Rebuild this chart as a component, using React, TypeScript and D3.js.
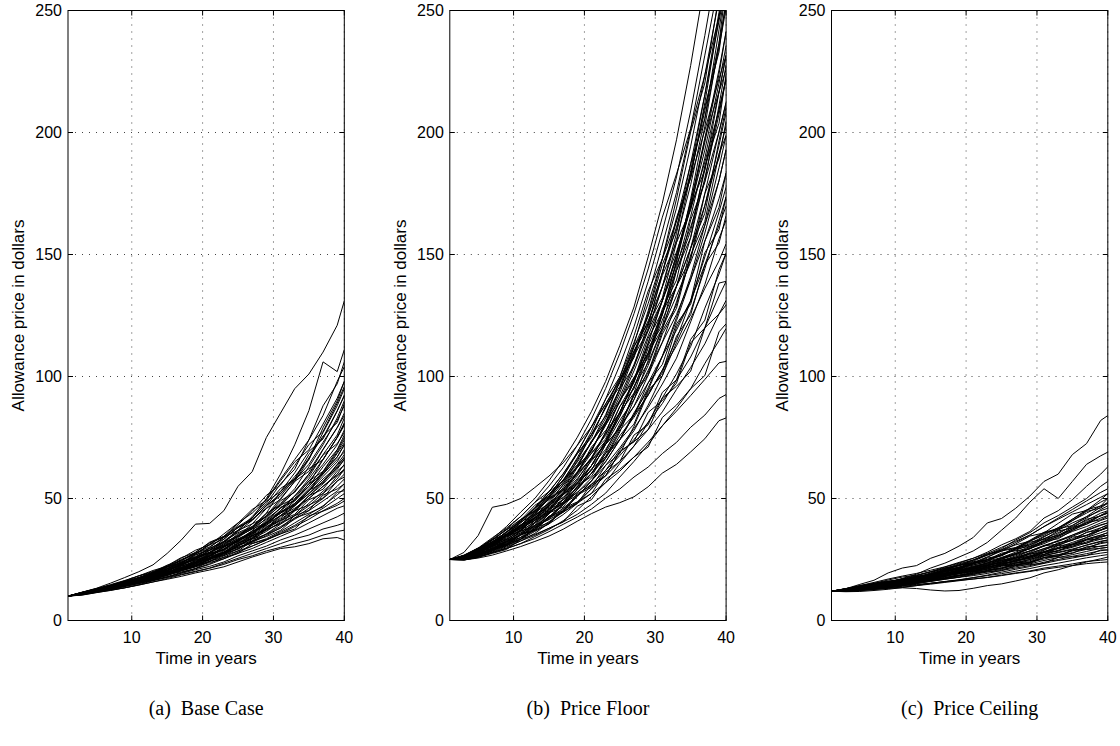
import React from "react";
import * as d3 from "d3";

// simulated allowance price paths, every second year
const years = [1, 3, 5, 7, 9, 11, 13, 15, 17, 19, 21, 23, 25, 27, 29, 31, 33, 35, 37, 39, 40];

const baseCase = [
  [10, 11.6, 13.2, 15.3, 17.6, 20, 22.8, 27.5, 33, 39.5, 39.8, 45, 55, 61, 75, 85, 95, 101, 110, 121, 131],
  [10, 11.3, 12.6, 14.2, 15.8, 17.5, 19.6, 21.5, 24.6, 27.5, 29.5, 32.5, 37, 42, 50, 60, 72, 86, 106, 102, 111],
  [10, 11.5, 12.9, 14.5, 16.2, 18.3, 20.5, 22.2, 25.5, 28.8, 31, 35.5, 40, 44, 49.5, 58, 66, 74, 88, 97, 106],
  [10, 10.9, 12.4, 13.9, 15.4, 17.5, 19.7, 22, 24.8, 27.2, 31.3, 34.5, 38.5, 42, 48, 56, 62, 74, 84, 98, 104],
  [10, 11.4, 12.8, 14.3, 15.7, 17.5, 19.2, 20.5, 23.5, 26.8, 28.8, 32, 36.5, 41, 47, 52, 59, 66, 79, 90, 98],
  [10, 10.8, 11.9, 13.2, 14.6, 16, 17.6, 19.5, 21.2, 24.7, 27.5, 31.5, 35, 38, 43, 50, 57, 66, 77, 88, 95],
  [10, 11.3, 12.6, 14.2, 15.4, 17, 19, 21.2, 23.8, 26.3, 27.8, 30.5, 34.5, 38.5, 44, 53, 58, 68, 75, 86, 92],
  [10, 11, 12.3, 13.4, 14.9, 16.5, 18.7, 20.4, 22.5, 25.2, 28, 31.5, 34.5, 37.5, 43, 48, 54, 63, 72, 83, 90],
  [10, 11.6, 13, 14.7, 16.4, 18.3, 20.1, 21.8, 25, 27.6, 30.2, 34, 38, 41.5, 46, 52, 57.5, 64, 73, 82, 88],
  [10, 10.7, 11.8, 13, 14.4, 16, 17.8, 19.7, 22.2, 24.3, 26.5, 30, 33, 36.8, 42, 47.5, 53, 60, 70, 79, 85],
  [10, 11.1, 12.5, 13.6, 15, 16.8, 18.4, 20.5, 23, 25.8, 28.7, 32.4, 36, 38.5, 42.5, 47, 53, 59, 68, 76, 83],
  [10, 11.5, 12.8, 14, 15.4, 16.9, 18.1, 19.8, 21.6, 23.8, 26.3, 29.2, 32.5, 36, 41, 46, 51, 58, 66, 75, 80],
  [10, 10.9, 12.1, 13.2, 14.6, 16.2, 18, 20.2, 22.8, 25.2, 27.8, 30.5, 33, 36, 40.5, 45, 51, 57, 64, 72, 78],
  [10, 11.2, 12.6, 14, 15.8, 17.6, 19.1, 20.6, 22.5, 25.7, 27.6, 29, 33, 36.5, 40, 44, 49, 55, 63, 70, 76],
  [10, 10.8, 11.9, 12.9, 14.1, 15.6, 17.3, 18.9, 21, 23.6, 26.5, 29.4, 32.5, 35.6, 40, 44.5, 48, 53, 61, 69, 74],
  [10, 11.4, 12.6, 13.9, 14.8, 16, 17.7, 19.5, 21.5, 24, 27, 30, 34, 37.8, 41.5, 46, 49.5, 55, 61, 67, 72],
  [10, 11, 12.3, 13.4, 14.9, 16.6, 17.8, 19.4, 21, 23, 25.2, 27.6, 30.5, 34, 38, 42, 47, 53, 59, 65, 70],
  [10, 11.2, 12.4, 13.6, 15.2, 17, 18.5, 20.5, 23, 25.4, 28, 30.5, 33.5, 36, 39.5, 43, 47, 52, 57, 64, 68],
  [10, 10.6, 11.6, 12.6, 13.9, 15.2, 16.8, 18.5, 20.5, 22.5, 24.8, 27.5, 30.5, 33.8, 37.5, 41, 45.5, 51, 56, 62, 66],
  [10, 11.5, 12.9, 14.2, 15.6, 17.2, 18.6, 19.9, 21.4, 23.8, 25.6, 28, 31, 33.5, 36.5, 40.5, 45, 50, 55, 60, 64],
  [10, 10.9, 12.1, 13.2, 14.4, 15.8, 17.3, 19, 21.1, 23.3, 25.8, 28.6, 32, 34.8, 37, 40, 43, 48, 53, 58, 62],
  [10, 11.3, 12.5, 13.7, 14.9, 15.9, 17.5, 18.8, 20.6, 22.5, 24.2, 26.5, 29.5, 32.5, 35.5, 39.5, 43, 47, 52, 57, 60],
  [10, 10.7, 11.9, 13.1, 14.4, 15.9, 17.5, 19.2, 21.4, 23.7, 25.8, 28, 30, 32.2, 35.5, 38.5, 42, 46, 50, 55, 58],
  [10, 11, 12.3, 13.4, 14.6, 15.6, 17, 18.5, 20.3, 22, 24.2, 27, 29.5, 32, 34.8, 38, 41.5, 45, 49, 53, 56],
  [10, 11.4, 12.8, 14, 15.3, 16.7, 18.2, 19.8, 21.7, 23.8, 25.6, 27.5, 30, 31.6, 33.5, 36.5, 40, 43.5, 47, 51.5, 54],
  [10, 10.5, 11.5, 12.3, 13.4, 14.7, 16.3, 17.7, 19.5, 21.3, 23.3, 26, 28.5, 30.5, 33, 36, 39, 42.5, 46, 50, 52],
  [10, 11.1, 12.3, 13.5, 14.6, 15.8, 17.4, 18.7, 20.4, 22, 23.8, 25.3, 28, 30.5, 33, 35.5, 38.5, 41.5, 45, 48, 50],
  [10, 10.8, 11.8, 12.9, 14, 15.1, 16.5, 18, 19.7, 21.2, 23, 25.3, 27.5, 29.5, 32, 34.5, 37, 40, 43, 46, 47],
  [10, 11, 12.2, 13.2, 14.3, 15.5, 16.7, 17.9, 19.3, 20.8, 22.2, 24, 26.5, 28.5, 30.5, 33, 35, 37.5, 40, 42.5, 44],
  [10, 10.4, 11.4, 12.4, 13.4, 14.6, 15.8, 17.2, 18.7, 20, 21.5, 23.5, 25.5, 27.5, 29.5, 31.5, 33.5, 35, 37.5, 39, 40],
  [10, 10.9, 12, 13, 14.2, 15.3, 16.4, 17.6, 18.9, 20.2, 21.4, 23, 25, 26.5, 28.5, 30, 31.5, 33, 35, 36.5, 37],
  [10, 10.7, 11.7, 12.6, 13.4, 14.5, 15.8, 16.9, 18.1, 19.5, 20.7, 22, 24, 26, 27.8, 29.5, 30.2, 31.5, 33.5, 34, 33],
  [10, 11.2, 12.7, 13.8, 15, 16.4, 17.7, 19.6, 21.6, 23.3, 25.5, 28, 31, 34.5, 39, 43, 48, 54, 60.5, 67, 72],
  [10, 10.8, 12.3, 13.4, 15, 16.7, 18.2, 19.6, 22, 24.6, 26.5, 29.3, 33, 35.5, 40, 44, 47.5, 52, 58, 63, 67],
  [10, 11.3, 12.7, 13.7, 15, 16.4, 18.2, 19.8, 21.5, 23.5, 25.5, 28, 31.5, 35, 39.5, 45, 49.5, 56, 66, 75, 81],
  [10, 11.1, 12.4, 13.5, 14.5, 15.8, 17.4, 18.8, 20.8, 22.6, 25, 28, 31.5, 34.5, 38, 43, 46, 50, 55, 59.5, 62],
  [10, 11.5, 13.1, 14.4, 15.9, 17.6, 19.3, 21.1, 23.5, 25.5, 27.8, 31, 34.5, 37.5, 40, 44, 47.5, 53, 60, 66, 69],
  [10, 10.9, 12, 13, 14.3, 15.6, 17.2, 18.8, 20.8, 22.8, 25, 27.5, 30.5, 33.5, 37.5, 41.5, 45.5, 51, 57, 62.5, 66],
  [10, 11.2, 12.2, 13.9, 15, 17.1, 18.5, 21.1, 22.8, 26, 29.6, 32.1, 36.9, 39.6, 45.9, 49.6, 57, 61.1, 70.2, 79.1, 84],
  [10, 11, 12.4, 13.3, 15.2, 16.4, 18.7, 20.1, 23.1, 24.8, 26.6, 30.3, 32.2, 36.6, 39, 44.6, 47, 53.4, 56.3, 63.8, 66.5],
  [10, 11.2, 12.7, 13.7, 15.6, 16.9, 19.2, 21.9, 23.5, 27, 29, 33.3, 38.2, 41.1, 47.2, 54.1, 58, 66.6, 75.6, 81.1, 88.9],
  [10, 11, 11.9, 13.5, 14.4, 16.3, 17.4, 18.7, 21.1, 22.6, 24.1, 27.6, 29.1, 33.3, 35.3, 37.8, 43, 45.1, 51.4, 53.9, 56],
  [10, 11.3, 12.3, 14, 15.9, 17.3, 19.6, 21.1, 24.2, 26, 27.9, 32.1, 34.5, 39.6, 42.6, 49.1, 52.5, 60, 67.8, 72.5, 77],
  [10, 11.1, 12.1, 13.7, 14.7, 15.8, 17.8, 19.1, 21.7, 23.1, 26.3, 27.9, 31.8, 33.7, 38.5, 41, 43.5, 49.5, 52, 59.2, 61.6],
  [10, 11.2, 12.2, 13.2, 15, 17.1, 18.3, 21.1, 24, 25.8, 29.9, 34.2, 36.9, 42.6, 48.8, 52.8, 60.5, 69.3, 74.4, 85.8, 92.4],
  [10, 10.9, 12.3, 13.2, 14.1, 16.1, 17, 19.5, 20.6, 22.1, 25.2, 26.7, 28.5, 32.6, 34.4, 36.9, 42, 44, 46.6, 52.5, 53.2],
  [10, 11.2, 12.7, 14.4, 15.5, 17.6, 18.8, 20.3, 23.3, 25, 28.8, 30.9, 35.5, 38.1, 43.9, 47.3, 50, 57.2, 61.1, 69.8, 74.9],
  [10, 11, 12.4, 13.5, 14.4, 16.4, 17.4, 19.9, 21.1, 24.1, 27.4, 29.1, 33.2, 35.2, 40.2, 46.4, 49, 56.1, 59.9, 68.5, 72.8],
  [10, 11.3, 12.9, 14, 16.1, 18.3, 19.6, 22.5, 25.8, 27.8, 32.1, 34.5, 39.9, 45.5, 49.2, 57.3, 65, 69.9, 80.5, 91.1, 98],
  [10, 11, 11.9, 12.8, 14.6, 15.4, 16.5, 18.9, 19.9, 21.3, 24.4, 25.8, 27.5, 31.5, 33.2, 35.5, 37.5, 42.9, 44.8, 47.2, 49],
  [10, 11.2, 12.2, 13.9, 15.8, 16.9, 19.4, 22.1, 23.7, 27.3, 31, 33.3, 38.2, 41.1, 47.2, 51, 58, 62.2, 65.9, 75.1, 80.5],
  [10, 11.1, 12.5, 13.5, 15.3, 16.3, 18.5, 19.7, 22.4, 23.8, 27.1, 28.8, 32.8, 34.8, 37.3, 42.8, 45, 51.2, 53.8, 61.2, 63.7],
  [10, 11.2, 12.7, 14.3, 16.2, 17.4, 19.9, 22.7, 24.4, 28, 31.8, 34.2, 39.2, 44.8, 51.3, 55.5, 63.5, 72.1, 77.4, 89.1, 95.9],
  [10, 11, 12.4, 13.3, 14.3, 16.3, 17.2, 18.5, 21, 22.3, 25.5, 27, 30.8, 32.6, 37.3, 39.6, 45, 47.3, 50.2, 57.2, 58.8],
];

const priceFloor = [
  [25, 26.6, 29.5, 33.5, 38.5, 44.4, 50, 57.3, 65.7, 75.1, 85.7, 98, 112.7, 128.5, 149, 171, 197, 227.5, 262, 291, 309],
  [25, 25.5, 28.4, 31.4, 35.5, 38.9, 44.7, 51, 59.1, 68.9, 79.4, 90.8, 104.7, 120.4, 139, 159.6, 181.8, 208.8, 239.8, 273, 289.5],
  [25, 26.3, 29.2, 31.7, 36.2, 40.7, 45.9, 50.5, 57.6, 63.8, 73, 84.4, 98.2, 113.1, 133, 153.9, 175.4, 201.6, 231.7, 262, 279.9],
  [25, 25, 26.4, 29.3, 31.5, 35.2, 40.2, 45.5, 52.5, 60.5, 69.9, 80.8, 93.4, 108.6, 126.9, 148.2, 169, 194.4, 223.6, 254.8, 270.2],
  [25, 26.8, 29.7, 33.9, 37.9, 42.6, 48.4, 52.8, 60.1, 68.4, 76.2, 87.2, 97.4, 112.2, 124.8, 142.5, 163.8, 187.2, 215.5, 245.7, 260.6],
  [25, 26.1, 27.2, 30.8, 33.2, 37, 42.6, 48.7, 55.6, 63.3, 73, 82.9, 95, 109.5, 124.8, 142.5, 161.3, 182.9, 209, 236.6, 252.8],
  [25, 25.3, 26.4, 28.4, 30.5, 33.3, 37.7, 43.7, 50, 57.6, 66.7, 77.2, 90.2, 104.1, 118.8, 136.8, 156.2, 178.6, 205.7, 234.8, 250.9],
  [25, 26.3, 28.6, 32.3, 35.2, 40, 45.1, 49.6, 56.6, 62.7, 69.9, 80.1, 89.4, 102.3, 116.7, 131.1, 149.8, 171.4, 197.6, 225.7, 241.3],
  [25, 25.8, 28.4, 30.8, 34.8, 38.1, 43.1, 46.4, 50.5, 55.4, 63.5, 73.6, 85.3, 97.7, 113.7, 131.1, 148.5, 169.9, 192.8, 220.2, 235.5],
  [25, 26.1, 27.2, 29.3, 32.8, 35.9, 41, 46.9, 53, 60.5, 68.6, 75.8, 87.7, 97.7, 112.7, 125.4, 144.6, 165.6, 189.5, 216.6, 231.6],
  [25, 26.6, 29.5, 32.9, 37.2, 41.4, 45.1, 49.6, 54, 59.9, 66.7, 76.5, 85.3, 98.6, 109.6, 125.4, 143.4, 159.8, 184.7, 209.3, 222],
  [25, 25.3, 26.7, 29, 31.2, 34, 37.3, 42.3, 47.5, 53.7, 60.3, 69.4, 80.5, 92.3, 104.5, 119.7, 137, 157, 181.4, 207.5, 222],
  [25, 26.1, 28.4, 30.5, 33.2, 37, 41.8, 47.3, 52, 59.3, 66.7, 73.6, 83.7, 95.9, 105.6, 119.7, 137, 152.6, 175, 200.2, 212.3],
  [25, 26.3, 28.6, 32, 34.8, 38.9, 42.2, 46, 49.5, 54.2, 60.3, 68.6, 78.9, 87.8, 100.5, 114, 130.6, 148.3, 170.1, 194.7, 208.4],
  [25, 25.5, 27, 29.9, 32.2, 35.2, 39.8, 43.7, 49.5, 56.5, 63.5, 72.9, 83.7, 95.9, 108.6, 123.1, 137, 152.6, 170.1, 191.1, 202.7],
  [25, 26.3, 28.9, 32.3, 36.2, 40.7, 45.9, 51.9, 57.1, 65, 73, 81.5, 90.2, 99.6, 109.6, 119.7, 133.1, 146.9, 162, 180.2, 193],
  [25, 25, 26.1, 28.1, 30.2, 32.6, 35.7, 40, 44.9, 50.9, 57.2, 65.1, 74.1, 84.2, 95.4, 108.3, 124.2, 141.1, 162, 185.6, 198.8],
  [25, 26.1, 28.6, 31.1, 34.8, 38.1, 41, 44.1, 48, 52.5, 58.4, 65.1, 74.1, 85.1, 94.4, 108.3, 122.9, 139.7, 158.8, 180.2, 193],
  [25, 25.8, 27.2, 29.3, 32.5, 35.2, 40.2, 45.5, 51.5, 58.2, 65.4, 72.2, 82.1, 90.5, 102.5, 114, 125.4, 139.7, 155.5, 172.9, 183.4],
  [25, 26.3, 27.8, 30.8, 33.2, 37, 40.2, 44.1, 48.5, 54.8, 60.3, 66.5, 75.7, 83.3, 92.4, 102.6, 115.2, 131, 149, 167.4, 177.6],
  [25, 26.1, 28.6, 31.7, 35.2, 39.2, 43.1, 46.9, 51.5, 57.1, 63.5, 70.1, 79.7, 87.8, 97.4, 108.3, 119, 131, 145.8, 162, 169.8],
  [25, 25.3, 26.7, 28.7, 30.8, 33.3, 36.5, 39.6, 43.4, 48, 54, 61.5, 70, 77.8, 88.3, 100.3, 113.9, 126.7, 144.2, 163.8, 173.7],
  [25, 26.1, 27.8, 31.1, 34.5, 37.7, 41, 44.6, 48, 52.5, 57.2, 63.6, 70.8, 78.7, 87.3, 96.9, 107.5, 122.4, 137.7, 156.5, 164.1],
  [25, 25.5, 27, 29.3, 31.8, 34.8, 39, 42.3, 47.5, 53.7, 60.3, 67.2, 74.1, 84.2, 92.4, 102.6, 112.6, 123.8, 136.1, 147.4, 154.4],
  [25, 25, 26.1, 27.8, 29.5, 31.5, 34.4, 37.3, 40.9, 45.2, 50.8, 56.5, 64.4, 71.5, 81.2, 91.2, 101.1, 112.3, 128, 142, 150.5],
  [25, 26.3, 28.9, 31.4, 35.2, 38.5, 41.4, 44.6, 48, 51.4, 55.9, 61.5, 67.6, 74.2, 81.2, 88.9, 98.6, 108, 119.9, 132.9, 139],
  [25, 25.3, 26.7, 29, 31.2, 34, 36.9, 40.5, 44.4, 48.6, 54, 59.3, 65.2, 71.5, 78.2, 85.5, 94.7, 103.7, 113.4, 125.6, 131.2],
  [25, 24.8, 25.9, 27.8, 29.8, 32.6, 34.9, 37.8, 40.4, 43.5, 47.6, 52.2, 58.8, 65.2, 72.1, 79.8, 87, 95, 105.3, 114.7, 119.7],
  [25, 25.8, 28.1, 30.2, 32.8, 35.9, 38.5, 41.4, 44.4, 48, 52.1, 56.5, 61.2, 67, 73.1, 79.8, 85.8, 92.2, 98.8, 105.6, 106.2],
  [25, 25, 26.1, 27.8, 29.5, 31.5, 33.6, 36.4, 39.4, 42.4, 45.7, 50.1, 53.9, 58.8, 62.9, 68.4, 73, 79.2, 84.2, 91, 92.6],
  [25, 24.8, 25.6, 26.8, 28.5, 30.3, 32.4, 34.6, 37.4, 40.7, 43.8, 46.5, 48.3, 50.7, 54.8, 60.4, 64, 69.1, 74.5, 81.9, 83],
  [25, 27.9, 34.8, 46.4, 47.6, 50, 54.5, 59.2, 64.6, 71.8, 79.4, 88.7, 99, 110.4, 122.8, 136.8, 151, 168.5, 187.9, 209.3, 222],
  [25, 26.1, 28.6, 31.1, 34.8, 38.9, 44.3, 50.5, 57.6, 66.1, 76.2, 87.2, 99.8, 114, 129.9, 148.2, 163.8, 181.4, 200.9, 222, 231.6],
  [25, 25.5, 27.2, 29.3, 32.2, 35.2, 38.1, 41.9, 46, 50.9, 57.2, 66.5, 77.3, 90.5, 106.6, 125.4, 147.2, 172.8, 202.5, 236.6, 260.6],
  [25, 26.3, 29.2, 32.3, 36.2, 40.7, 46.3, 52.8, 60.1, 68.9, 79.4, 88.7, 98.2, 108.6, 118.8, 131.1, 145.9, 161.3, 179.8, 200.2, 212.3],
  [25, 25.5, 28.1, 30.5, 34.2, 37, 42.2, 47.8, 53.5, 61, 69.9, 80.1, 91.8, 105, 119.8, 136.8, 158.7, 184.3, 215.5, 249.3, 270.2],
  [25, 25.3, 26.7, 28.7, 30.8, 33.3, 37.3, 42.3, 48, 54.8, 63.5, 73.6, 85.3, 98.6, 113.7, 131.1, 149.8, 171.4, 196, 223.9, 241.3],
  [25, 26.6, 29.5, 33.2, 37.5, 42.6, 48.4, 55.1, 62.6, 71.8, 82.6, 95.1, 109.5, 125.8, 144.1, 165.3, 183, 201.6, 223.6, 247.5, 260.6],
  [25, 25.3, 28.4, 30.2, 34.8, 37.4, 43.5, 46.9, 54.5, 63.3, 69.2, 81.5, 95, 104.1, 121.8, 141.4, 154.9, 182.9, 210.6, 233, 254.8],
  [25, 26.6, 27.8, 31.7, 33.8, 38.9, 41.8, 45, 52, 56.5, 61.6, 72.2, 78.9, 92.3, 100.5, 117.4, 128, 149.8, 163.6, 191.1, 198.8],
  [25, 25, 26.1, 29.6, 30.8, 35.2, 36.9, 42.3, 44.4, 51.4, 54.6, 63.6, 68.4, 79.6, 93.4, 101.5, 120.3, 131, 155.5, 169.3, 183.4],
  [25, 26.3, 29.5, 31.4, 36.2, 41.4, 44.7, 51.9, 56.1, 65.5, 76.2, 83.7, 98.2, 107.7, 125.9, 145.9, 160, 187.2, 205.7, 242.1, 260.6],
  [25, 25.5, 28.6, 30.5, 32.2, 36.6, 38.5, 44.1, 46.5, 53.7, 62.2, 67.2, 78.1, 84.2, 97.4, 104.9, 121.6, 129.6, 150.7, 160.2, 173.7],
  [25, 26.1, 27.2, 31.1, 35.2, 37.7, 43.9, 50.1, 53.5, 62.7, 68.6, 74.4, 87.7, 95, 111.7, 120.8, 143.4, 157, 186.3, 203.8, 223.9],
  [25, 25.3, 26.4, 29.9, 31.5, 33.3, 38.1, 40, 46, 48.6, 52.1, 60.8, 65.2, 76, 80.2, 93.5, 98.6, 115.2, 123.1, 143.8, 150.5],
  [25, 26.3, 29.2, 33.2, 35.5, 41.1, 47.2, 51, 59.1, 68.4, 74.9, 87.9, 95.8, 112.2, 121.8, 132.2, 154.9, 168.5, 197.6, 216.6, 231.6],
  [25, 25.8, 27, 30.5, 32.2, 36.6, 39, 44.6, 51.5, 55.9, 66, 72.2, 85.3, 93.2, 109.6, 127.7, 139.5, 164.2, 179.8, 211.1, 227.7],
  [25, 25, 27.5, 29, 30.8, 35.2, 36.9, 39.6, 45.5, 48, 55.9, 59.3, 69.2, 73.3, 85.3, 90.1, 97.3, 113.8, 119.9, 138.3, 139],
  [25, 26.3, 27.5, 31.4, 33.5, 38.5, 44.3, 47.8, 55.6, 60.5, 71.1, 77.9, 84.5, 99.6, 107.6, 126.5, 137, 148.3, 175, 189.3, 204.6],
  [25, 25.5, 26.7, 28.4, 32.2, 34, 39, 41.4, 47.5, 54.8, 59.1, 68.6, 74.1, 80.5, 94.4, 100.3, 116.5, 125.3, 145.8, 154.7, 166],
  [25, 26.6, 29.7, 31.7, 36.5, 39.2, 41.8, 48.2, 52, 60.5, 66, 77.2, 90.2, 98.6, 115.7, 126.5, 147.2, 169.9, 184.7, 216.6, 225.8],
  [25, 25.3, 28.1, 29.6, 31.2, 35.5, 37.3, 42.8, 44.9, 52, 55.2, 59.3, 69.2, 73.3, 78.2, 91.2, 96, 102.2, 119.9, 125.6, 129.3],
  [25, 26.1, 28.9, 30.8, 35.2, 40.3, 43.5, 50.1, 57.6, 62.7, 73.7, 80.8, 95, 110.4, 120.8, 142.5, 165.1, 181.4, 212.2, 247.5, 266.3],
  [25, 25.5, 28.4, 32.3, 34.5, 36.6, 42.2, 45.5, 48.5, 56.5, 61.6, 72.2, 78.9, 93.2, 101.5, 118.6, 129.3, 152.6, 166.9, 196.6, 210.4],
  [25, 24.8, 25.9, 27.5, 29.1, 33.3, 35.3, 37.8, 40.4, 46.9, 49.5, 57.9, 62, 67, 71.1, 83.2, 88.3, 95, 100.4, 118.3, 121.6],
  [25, 26.3, 28.9, 32.9, 37.2, 40, 45.9, 52.8, 57.1, 66.7, 77.5, 90.8, 99.8, 116.7, 135, 148.2, 172.8, 200.2, 220.3, 256.6, 276],
];

const priceCeiling = [
  [12, 13, 14.8, 16.5, 19.5, 21.5, 22.5, 25.5, 27.5, 30.5, 34, 40, 41.8, 46, 51, 57, 60, 68, 72.5, 82, 84],
  [12, 12.6, 13.4, 14.4, 15.6, 17.2, 19, 21.5, 23.5, 26, 28.5, 32, 37, 42, 48.5, 54, 50, 57, 64, 67.5, 69],
  [12, 12.5, 13.3, 14.3, 15.5, 16.8, 18.3, 20, 21.9, 23.5, 25.5, 28, 31, 33.5, 36.5, 42, 45, 49.5, 55, 60, 63],
  [12, 12.9, 14, 15.2, 16.6, 17.8, 18.6, 20, 21.3, 22.8, 24.8, 27, 29.5, 33, 36, 40, 43, 46.5, 50, 55, 57],
  [12, 12.3, 12.9, 13.9, 14.8, 16.2, 17.5, 19.2, 21, 22.5, 24.3, 26.8, 29, 32, 35, 38.5, 42, 45.5, 49, 52.5, 54],
  [12, 13, 14.3, 15.6, 17, 18.2, 19.3, 20.6, 22, 23.8, 25.5, 27.5, 30, 32.5, 35, 38.5, 41.5, 44.5, 47.5, 50.5, 52],
  [12, 12.4, 13.3, 14.2, 15.1, 16.3, 17.4, 18.6, 20, 21.5, 23.3, 25, 26.5, 29.5, 32.5, 35, 38, 41.5, 45, 48.5, 50],
  [12, 12.8, 13.7, 14.8, 15.8, 17.1, 18.5, 19.9, 21.3, 23.2, 24.8, 26.8, 29, 31, 32.5, 35.5, 38, 41, 44, 47, 48],
  [12, 12.1, 12.6, 13.3, 14.1, 15, 16, 17.1, 18.4, 19.8, 21.2, 23, 25, 27.3, 30, 32.5, 35.5, 39, 42, 45.5, 47],
  [12, 12.9, 14, 14.9, 15.7, 16.6, 17.6, 18.8, 20.2, 21.8, 23.2, 25, 27, 29.3, 31.5, 34.5, 37, 40, 42.5, 45, 46],
  [12, 12.3, 13, 13.9, 15, 16.1, 17.4, 18.8, 20.3, 21.8, 23.5, 24.8, 27, 28.8, 31, 33.5, 36, 38.5, 41, 44, 45],
  [12, 12.6, 13.5, 14.3, 15.2, 16.1, 17.1, 18, 19.3, 20.6, 21.8, 23.5, 25.2, 27, 29.5, 32, 34.5, 37.5, 40, 43, 44],
  [12, 12.2, 12.9, 13.8, 14.6, 15.8, 17, 18.3, 19.7, 21.2, 22.7, 24.3, 25.8, 28, 30.3, 32.5, 34.5, 37, 39.5, 42, 43],
  [12, 13, 14.3, 15.3, 16.2, 16.8, 17.6, 18.6, 19.5, 20.7, 22, 23.6, 25.5, 27.5, 29.5, 31.5, 34, 36.5, 38.5, 41, 42],
  [12, 12.5, 13.4, 14.2, 14.9, 15.8, 16.9, 18, 19.3, 20.6, 21.7, 23.2, 24.5, 26.5, 28.5, 30.5, 32.8, 35, 37.5, 40, 41],
  [12, 12, 12.4, 13, 13.7, 14.6, 15.8, 17, 18.5, 19.8, 21.2, 22.6, 24, 26, 28.5, 30.5, 32.5, 35, 37, 39.2, 40],
  [12, 12.8, 13.6, 14.5, 15.4, 16.3, 17, 17.7, 18.9, 20.4, 21.4, 22.6, 24, 25.5, 27.5, 29.5, 31.5, 33.5, 36, 38, 39],
  [12, 12.2, 12.9, 13.8, 14.6, 15.4, 16.5, 17.5, 18.8, 20, 21, 22.4, 24, 25.6, 27, 29, 30.8, 33, 34.8, 37, 38],
  [12, 13, 14.1, 15.1, 16, 16.7, 17.5, 18.3, 19.3, 20.5, 21.4, 22.5, 23.8, 25, 26.5, 28.3, 30, 32, 34, 36, 37],
  [12, 12.1, 12.6, 13.3, 14.1, 14.9, 15.8, 16.9, 18.2, 19.4, 20.4, 21.6, 23, 24.5, 26, 27.8, 29.5, 31.5, 33.2, 35, 36],
  [12, 12.6, 13.3, 14, 14.6, 15.5, 16.3, 17.4, 18.5, 19.5, 20.6, 21.8, 23, 24.2, 25.5, 27.2, 28.8, 30.5, 32.2, 34, 35],
  [12, 11.9, 12.2, 12.7, 13.3, 14.2, 15.1, 16.2, 17.2, 18.5, 19.7, 21.2, 22.2, 23.5, 25, 27, 28.6, 30, 31.8, 33.3, 34],
  [12, 12.7, 13.4, 14.1, 14.9, 15.7, 16.5, 17.2, 18.3, 19.4, 20.3, 21.3, 22.6, 23.8, 25, 26.6, 28, 29.3, 30.8, 32.3, 33],
  [12, 12.3, 12.9, 13.4, 14, 14.8, 15.6, 16.4, 17.3, 18.4, 19.4, 20.5, 21.7, 22.8, 24, 25.8, 27, 28.5, 30, 31.5, 32],
  [12, 13.1, 14, 14.5, 15, 15.5, 16, 16.6, 17.4, 18.4, 19.3, 20.2, 21.4, 22.5, 23.8, 25.2, 26.5, 27.8, 29.2, 30.5, 31],
  [12, 12, 12.5, 13.1, 13.7, 14.4, 15.2, 16.1, 16.9, 17.8, 18.8, 19.9, 20.9, 22, 23.2, 24.6, 25.8, 27, 28.3, 29.6, 30],
  [12, 12.5, 13, 13.7, 14.2, 14.7, 15.3, 16, 16.9, 17.7, 18.4, 19.3, 20.5, 21.5, 22.5, 23.9, 25, 26.3, 27.4, 28.6, 29],
  [12, 11.8, 11.9, 12.3, 12.8, 13.5, 14.3, 15.2, 16, 16.7, 17.6, 18.6, 19.8, 21, 22.1, 23.4, 24.6, 25.6, 26.7, 27.6, 28],
  [12, 12.3, 12.7, 13.1, 13.5, 14, 14.6, 15.2, 15.9, 16.6, 17.5, 18.4, 19.2, 20.2, 21.3, 22.5, 23.5, 24.6, 25.7, 26.6, 27],
  [12, 12.3, 12.6, 12.9, 13.2, 13.4, 13.1, 12.5, 12.1, 12.3, 13.2, 14.3, 15, 16.2, 17.5, 19.5, 20.8, 22.5, 24, 25.3, 26],
  [12, 12, 12.3, 12.7, 13.2, 13.7, 14.3, 14.9, 15.6, 16.3, 17, 17.7, 18.6, 19.5, 20.3, 21.5, 22.3, 23.2, 24.2, 24.7, 25],
  [12, 12.4, 12.8, 13.3, 13.8, 14.3, 14.8, 15.3, 15.9, 16.5, 17, 17.6, 18.4, 19.3, 20.1, 21, 21.8, 22.5, 23.3, 23.8, 24],
  [12, 12.9, 13.9, 14.8, 15.9, 16.9, 18, 19.2, 20.5, 21.8, 22.8, 24, 24.6, 26, 27.5, 29.4, 31, 33, 35, 37, 38],
  [12, 12.2, 12.8, 13.6, 14.6, 15.9, 17.2, 18.6, 19.9, 21, 22.3, 23.6, 25.4, 27, 28.5, 30.8, 32.5, 34.5, 36.8, 39, 40],
  [12, 12.7, 13.5, 14.5, 15.6, 16.6, 17.5, 18.3, 19.2, 20.2, 21, 22, 23.3, 24.5, 26, 28, 29.5, 31, 33, 34.5, 35],
  [12, 12.1, 12.6, 13.3, 14.2, 15.4, 16.4, 17.5, 18.8, 20.4, 21.8, 23.5, 25.8, 27.5, 29.5, 33, 35, 37.5, 40.5, 43, 44],
  [12, 12.6, 13.3, 14.1, 15, 15.9, 16.8, 17.6, 18.4, 19.3, 20, 21, 22.6, 23.5, 24.5, 26.6, 27.8, 29, 31, 32.5, 33],
  [12, 12.4, 12.9, 13.5, 14.2, 15, 16, 17, 18.2, 19.3, 20.4, 21.7, 23.2, 24.5, 25.8, 28.2, 29.6, 31, 33.4, 35, 36],
  [12, 12.6, 13.1, 14.3, 14.9, 16.3, 17, 18.6, 20.4, 21.2, 23.4, 24.3, 26.8, 29.3, 30.4, 33.6, 34.8, 38.2, 39.4, 43.1, 44.7],
  [12, 12.4, 13.3, 13.7, 15, 15.5, 16, 17.5, 18, 19.8, 20.2, 22.2, 22.6, 24.9, 25.4, 27.9, 28.4, 31.2, 31.6, 34.5, 35],
  [12, 12.8, 13.2, 14.4, 15.8, 16.3, 18, 18.6, 20.6, 22.6, 23.4, 25.9, 28.5, 29.6, 32.6, 35.9, 37.3, 40.9, 44.7, 46.1, 48.1],
  [12, 12.5, 12.9, 13.4, 14.8, 15.2, 15.6, 17.2, 17.6, 18.2, 20, 20.3, 22.4, 22.8, 23.4, 25.8, 26.2, 28.8, 29.1, 29.6, 30],
  [12, 12.6, 13.6, 14.1, 14.6, 16, 16.3, 17.9, 18.3, 20.2, 22.1, 22.6, 24.8, 25.4, 27.9, 30.6, 31.3, 34.2, 34.8, 37.9, 39.3],
  [12, 12.4, 12.8, 13.9, 14.3, 14.7, 16.1, 16.5, 18.1, 18.6, 20.4, 20.8, 21.4, 23.6, 24, 26.4, 26.9, 27.5, 30.2, 30.4, 30.8],
  [12, 12.6, 13.2, 14.4, 15, 16.4, 18, 18.6, 20.6, 21.4, 23.7, 24.5, 27.1, 29.9, 31, 34.2, 37.6, 38.9, 42.6, 46.5, 48.5],
  [12, 12.3, 13.2, 13.6, 14.8, 15.2, 16.6, 17, 18.7, 19.2, 21, 21.5, 23.6, 24.1, 26.5, 27, 29.7, 30.2, 33, 33.4, 33.9],
  [12, 12.6, 13.5, 14, 15.3, 16.7, 17.3, 19.2, 21, 21.8, 24.1, 24.9, 27.6, 28.6, 29.3, 32.4, 33.5, 36.9, 40.1, 41.3, 42.7],
  [12, 12.5, 13.1, 14.1, 14.6, 15.8, 16.3, 18.1, 18.7, 20.8, 21.5, 22.2, 24.4, 24.9, 27.3, 27.9, 30.7, 31.2, 34.1, 37.1, 38.5],
  [12, 12.8, 13.7, 14.3, 15.6, 17.1, 17.6, 19.5, 21.6, 22.4, 24.7, 27.3, 28.3, 31.4, 34.6, 35.9, 39.8, 43.6, 45.1, 49.5, 52],
  [12, 12.4, 12.9, 13.3, 14.5, 14.9, 15.3, 16.8, 17.2, 17.7, 19.5, 19.9, 20.4, 22.5, 22.9, 23.5, 25.9, 26.1, 26.6, 28.9, 28.9],
  [12, 12.6, 13.1, 14.1, 15.5, 16, 17.6, 18.3, 20.2, 21, 23.2, 25.6, 26.6, 29.3, 32.1, 33.3, 36.7, 37.9, 41.5, 42.8, 44.3],
  [12, 12.4, 13.3, 13.9, 14.5, 15.8, 16.3, 16.8, 18.5, 19, 20.8, 22.9, 23.4, 25.7, 26.2, 28.8, 31.9, 32.8, 36.2, 37.1, 38.5],
  [12, 12.6, 13.5, 14.6, 15.2, 16.6, 18.1, 18.8, 20.8, 22.8, 23.7, 26.1, 28.8, 29.9, 32.9, 36.2, 37.6, 41.5, 45.4, 46.9, 50],
  [12, 12.4, 12.8, 13.7, 14.2, 15.3, 15.8, 16.3, 17.8, 18.4, 18.9, 20.6, 21.2, 23.1, 23.7, 25.8, 26.5, 28.8, 29.5, 31.9, 32.3],
];

const captions = ["(a)  Base Case", "(b)  Price Floor", "(c)  Price Ceiling"];
const xTicks = [10, 20, 30, 40];
const yTicks = [0, 50, 100, 150, 200, 250];

const W = 1120;
const H = 746;
const top = 10.5;
const bottom = 620.5;
const plotW = 276.3;
const lefts = [68, 449.8, 831.5];
const sans = "'Liberation Sans', Arial, Helvetica, sans-serif";
const serif = "'Liberation Serif', 'Times New Roman', serif";

const Panel = ({ idx, paths }: { idx: number; paths: number[][] }) => {
  const left = lefts[idx];
  const x = d3.scaleLinear().domain([1, 40]).range([left, left + plotW]);
  const y = d3.scaleLinear().domain([0, 250]).range([bottom, top]);
  const line = d3
    .line<number>()
    .x((_, i) => x(years[i]))
    .y((d) => y(d));
  const clipId = "clip" + idx;
  const tick = 5;

  return (
    <g>
      <defs>
        <clipPath id={clipId}>
          <rect x={left} y={top} width={plotW} height={bottom - top} />
        </clipPath>
      </defs>
      {/* dotted grid */}
      <g stroke="#444" strokeWidth={1} strokeDasharray="1 6">
        {xTicks.map((t) => (
          <line key={"gx" + t} x1={x(t)} x2={x(t)} y1={bottom} y2={top} />
        ))}
        {yTicks.slice(1, -1).map((t) => (
          <line key={"gy" + t} x1={left} x2={left + plotW} y1={y(t)} y2={y(t)} />
        ))}
      </g>
      <g clipPath={`url(#${clipId})`} fill="none" stroke="#000" strokeWidth={1}>
        {paths.map((p, i) => (
          <path key={i} d={line(p) || ""} />
        ))}
      </g>
      <rect x={left} y={top} width={plotW} height={bottom - top} fill="none" stroke="#000" strokeWidth={1} />
      <g stroke="#000" strokeWidth={1}>
        {xTicks.map((t) => (
          <g key={"tx" + t}>
            <line x1={x(t)} x2={x(t)} y1={bottom} y2={bottom - tick} />
            <line x1={x(t)} x2={x(t)} y1={top} y2={top + tick} />
          </g>
        ))}
        {yTicks.map((t) => (
          <g key={"ty" + t}>
            <line x1={left} x2={left + tick} y1={y(t)} y2={y(t)} />
            <line x1={left + plotW} x2={left + plotW - tick} y1={y(t)} y2={y(t)} />
          </g>
        ))}
      </g>
      <g fontFamily={sans} fontSize={16} fill="#000">
        {xTicks.map((t) => (
          <text key={"lx" + t} x={x(t)} y={bottom + 22} textAnchor="middle">
            {t}
          </text>
        ))}
        {yTicks.map((t) => (
          <text key={"ly" + t} x={left - 6} y={y(t) + 5.5} textAnchor="end">
            {t}
          </text>
        ))}
      </g>
      <text x={left + plotW / 2} y={bottom + 43} textAnchor="middle" fontFamily={sans} fontSize={17}>
        Time in years
      </text>
      <text
        transform={`translate(${left - 44},${(top + bottom) / 2}) rotate(-90)`}
        textAnchor="middle"
        fontFamily={sans}
        fontSize={17}
      >
        Allowance price in dollars
      </text>
      <text
        x={left + plotW / 2}
        y={715}
        textAnchor="middle"
        fontFamily={serif}
        fontSize={20}
        style={{ whiteSpace: "pre" }}
      >
        {captions[idx]}
      </text>
    </g>
  );
};

export default function App() {
  return (
    <svg
      width={W}
      height={H}
      style={{ position: "absolute", left: 0, top: 0, background: "#fff" }}
    >
      <Panel idx={0} paths={baseCase} />
      <Panel idx={1} paths={priceFloor} />
      <Panel idx={2} paths={priceCeiling} />
    </svg>
  );
}
